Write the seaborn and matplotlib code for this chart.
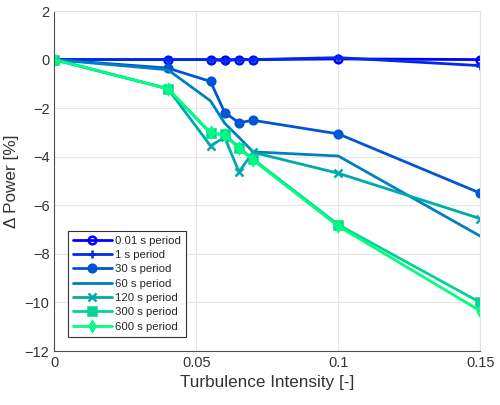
import numpy as np
import pandas as pd
import matplotlib
matplotlib.use("Agg")
import matplotlib.pyplot as plt
import seaborn as sns

# turbulence intensity levels
TI = [0, 0.04, 0.055, 0.06, 0.065, 0.07, 0.1, 0.15]

# change in power [%] for each gust period
P_001 = [0, 0, 0, 0, 0, 0, 0.03, 0]
P_1 = [0, 0, 0, -0.05, 0, 0, 0.08, -0.25]
P_30 = [0, -0.35, -0.9, -2.18, -2.6, -2.5, -3.06, -5.5]
P_60 = [0, -0.42, -1.7, -2.62, -3.2, -3.8, -3.97, -7.27]
P_120 = [0, -1.2, -3.55, -3.2, -4.62, -3.82, -4.68, -6.55]
P_300 = [0, -1.2, -3.04, -3.08, -3.62, -4.1, -6.8, -10.0]
P_600 = [0, -1.2, -3.0, -3.12, -3.65, -4.14, -6.86, -10.35]

LABELS = ["0.01 s period", "1 s period", "30 s period", "60 s period",
          "120 s period", "300 s period", "600 s period"]
SERIES = [P_001, P_1, P_30, P_60, P_120, P_300, P_600]

sns.set_style("whitegrid")
plt.rcParams['font.family'] = ['Liberation Sans', 'DejaVu Sans']

# winter colormap, 7 levels (like matlab)
cols = [(0, i / 6, 1 - 0.5 * i / 6) for i in range(7)]
markers = ["o", "+", "o", None, "x", "s", "d"]
filled = [False, False, True, False, False, True, False]

fig = plt.figure(figsize=(5, 4.05), dpi=100)
ax = fig.add_axes([0.1086, 0.1333, 0.852, 0.8395])

for i in range(7):
    df = pd.DataFrame({"TI": TI, "dP": SERIES[i]})
    kw = dict(linewidth=2, color=cols[i], label=LABELS[i])
    if markers[i] is not None:
        kw["marker"] = markers[i]
        kw["markersize"] = 5.5
        kw["markeredgewidth"] = 1.8
        kw["markeredgecolor"] = cols[i]
        kw["markerfacecolor"] = cols[i] if filled[i] else "none"
    sns.lineplot(data=df, x="TI", y="dP", ax=ax, **kw)

ax.set_xlim(0, 0.15)
ax.set_ylim(-12, 2)
ax.set_xticks([0, 0.05, 0.1, 0.15])
ax.set_xticklabels(["0", "0.05", "0.1", "0.15"])
ax.set_yticks(np.arange(-12, 3, 2))
ax.set_xlabel("Turbulence Intensity [-]", fontsize=12.3, color="#333333")
ax.set_ylabel("\u0394 Power [%]", fontsize=12.3, color="#333333")
ax.tick_params(labelsize=10.5, colors="#333333", direction="in", length=3)
ax.grid(True, color="#e6e6e6", linewidth=0.8)
for s in ["left", "bottom"]:
    ax.spines[s].set_color("#4d4d4d")
for s in ["top", "right"]:
    ax.spines[s].set_color("#e0e0e0")

leg = ax.legend(loc="lower left", bbox_to_anchor=(0.018, 0.025), fontsize=8.2,
                handlelength=3.4, labelspacing=0.38, borderpad=0.45,
                handletextpad=0.3, fancybox=False, framealpha=1)
leg.get_frame().set_edgecolor("#333333")
leg.get_frame().set_linewidth(0.8)

fig.savefig("out.png", dpi=100)
